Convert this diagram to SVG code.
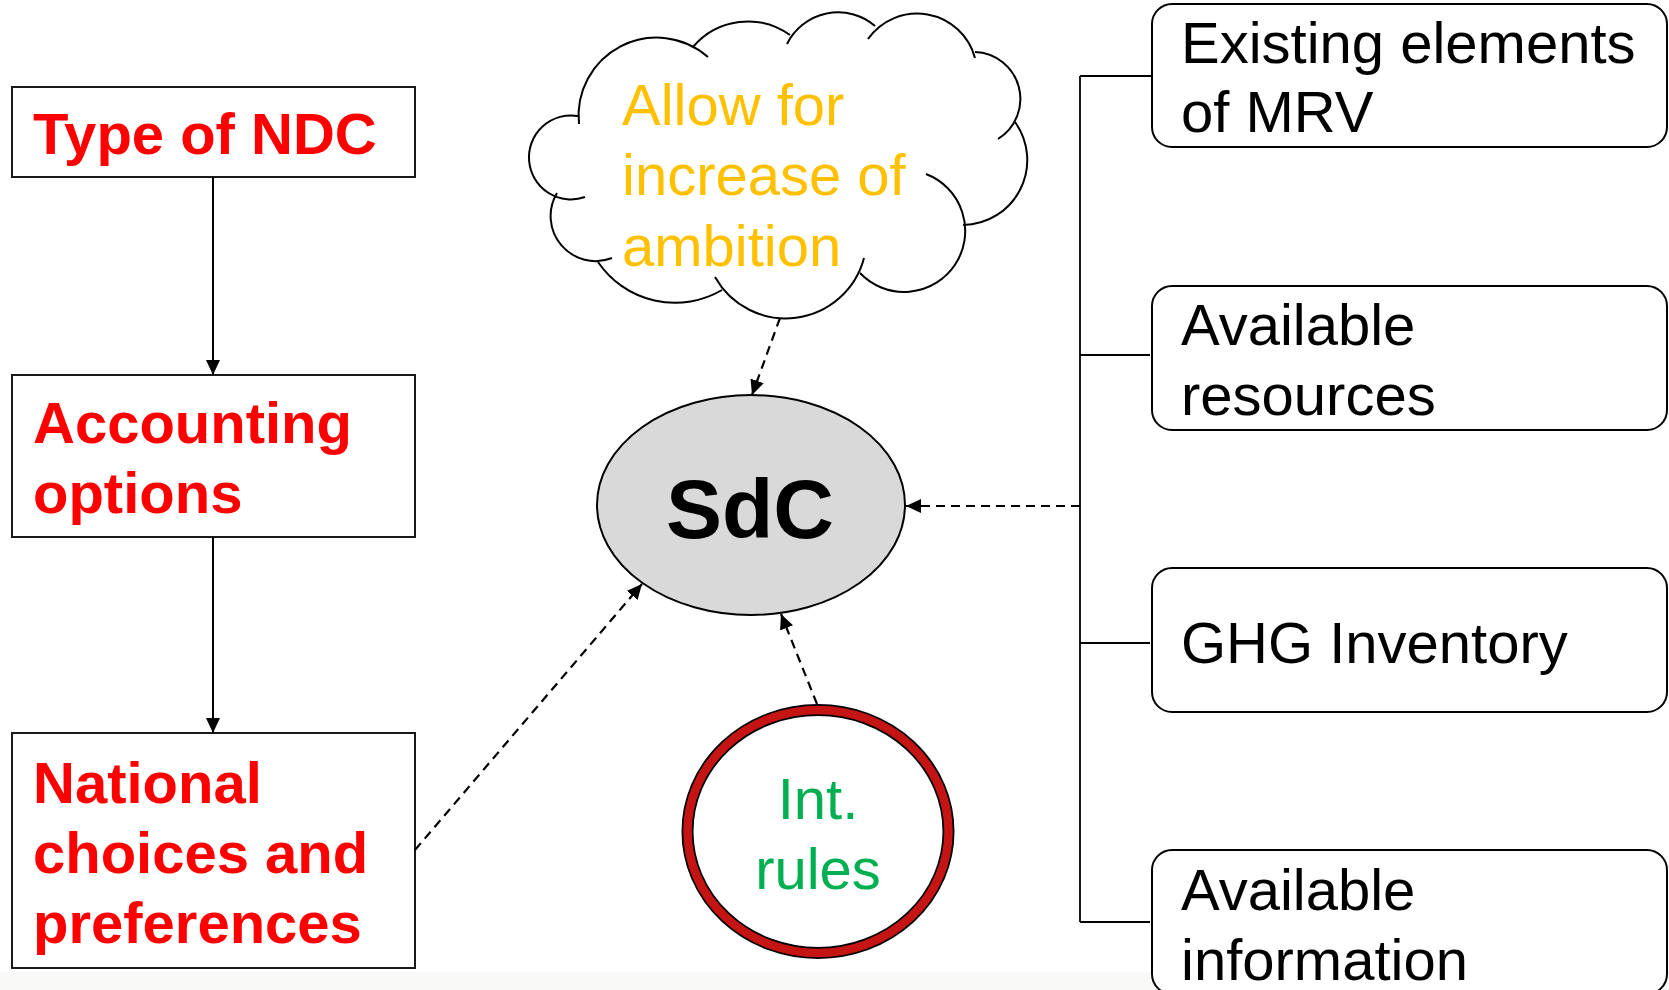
<svg xmlns="http://www.w3.org/2000/svg" width="1669" height="990" viewBox="0 0 1669 990">
<style>
  text { font-family: "Liberation Sans", Arial, sans-serif; font-size: 58px; }
  .lbox { fill: #ffffff; stroke: #1a1a1a; stroke-width: 2; }
  .ltxt { fill: #ff0000; font-weight: bold; }
  .rbox { fill: #ffffff; stroke: #000000; stroke-width: 2; }
  .rtxt { fill: #000000; }
  .solid { stroke: #000000; stroke-width: 2; fill: none; }
  .dash { stroke: #000000; stroke-width: 2.2; fill: none; stroke-dasharray: 9 6; }
  .thin { stroke: #000000; stroke-width: 1.8; fill: none; }
  .cloud path { fill: none; stroke: #000000; stroke-width: 2; }
</style>
<defs>
  <marker id="arr" markerUnits="userSpaceOnUse" markerWidth="15" markerHeight="14" refX="15" refY="7" orient="auto">
    <path d="M0,0 L15,7 L0,14 z" fill="#000000"/>
  </marker>
</defs>
<rect x="0" y="0" width="1669" height="990" fill="#ffffff"/>
<rect x="0" y="972" width="1669" height="18" fill="#f9f9f7"/>

<g id="type-of-ndc">
  <rect class="lbox" x="12" y="87" width="403" height="90"/>
  <text class="ltxt" x="33" y="154">Type of NDC</text>
</g>
<g id="accounting-options">
  <rect class="lbox" x="12" y="375" width="403" height="162"/>
  <text class="ltxt" x="33" y="443">Accounting</text>
  <text class="ltxt" x="33" y="513">options</text>
</g>
<g id="national-choices">
  <rect class="lbox" x="12" y="733" width="403" height="235"/>
  <text class="ltxt" x="33" y="803">National</text>
  <text class="ltxt" x="33" y="873">choices and</text>
  <text class="ltxt" x="33" y="943">preferences</text>
</g>

<g id="cloud" class="cloud">
  <path d="M579,124 A78,78 0 0 1 708,57"/>
  <path d="M693,47 A72,72 0 0 1 790,35"/>
  <path d="M787,44 A57,57 0 0 1 875,26"/>
  <path d="M868,39 A60,60 0 0 1 975,58"/>
  <path d="M975,52 A47,47 0 0 1 998,139"/>
  <path d="M1015,122 A65,65 0 0 1 963,225"/>
  <path d="M926,174 A61,61 0 1 1 860,273"/>
  <path d="M864,258 A81,81 0 0 1 715,277"/>
  <path d="M722,290 A93,93 0 0 1 598,262"/>
  <path d="M612,258 A45,45 0 0 1 557,193"/>
  <path d="M585,197 A42,42 0 1 1 578,116"/>
  <text x="622" y="125" fill="#ffc000">Allow for</text>
  <text x="622" y="195" fill="#ffc000">increase of</text>
  <text x="622" y="266" fill="#ffc000">ambition</text>
</g>

<g id="sdc">
  <ellipse cx="751" cy="505" rx="154" ry="110" fill="#d9d9d9" stroke="#000000" stroke-width="2"/>
  <text x="750" y="538" text-anchor="middle" font-weight="bold" style="font-size:84px" fill="#000000">SdC</text>
</g>

<g id="int-rules">
  <ellipse cx="818" cy="831.5" rx="130.5" ry="121.5" fill="#ffffff" stroke="#000000" stroke-width="12"/>
  <ellipse cx="818" cy="831.5" rx="130.5" ry="121.5" fill="none" stroke="#c41414" stroke-width="8.5"/>
  <text x="818" y="819" text-anchor="middle" fill="#00b050">Int.</text>
  <text x="818" y="889" text-anchor="middle" fill="#00b050">rules</text>
</g>

<g id="existing-elements">
  <rect class="rbox" x="1152" y="4" width="515" height="143" rx="20" ry="20"/>
  <text class="rtxt" x="1181" y="63">Existing elements</text>
  <text class="rtxt" x="1181" y="132">of MRV</text>
</g>
<g id="available-resources">
  <rect class="rbox" x="1152" y="286" width="515" height="144" rx="20" ry="20"/>
  <text class="rtxt" x="1181" y="345">Available</text>
  <text class="rtxt" x="1181" y="415">resources</text>
</g>
<g id="ghg-inventory">
  <rect class="rbox" x="1152" y="568" width="515" height="144" rx="20" ry="20"/>
  <text class="rtxt" x="1181" y="663">GHG Inventory</text>
</g>
<g id="available-information">
  <rect class="rbox" x="1152" y="850" width="515" height="144" rx="20" ry="20"/>
  <text class="rtxt" x="1181" y="910">Available</text>
  <text class="rtxt" x="1181" y="980">information</text>
</g>

<g id="connectors">
  <line class="solid" x1="213" y1="177" x2="213" y2="375" marker-end="url(#arr)"/>
  <line class="solid" x1="213" y1="537" x2="213" y2="733" marker-end="url(#arr)"/>
  <line class="dash" x1="415" y1="850" x2="642" y2="584" marker-end="url(#arr)"/>
  <line class="dash" x1="780" y1="318" x2="752" y2="395" marker-end="url(#arr)"/>
  <line class="dash" x1="817" y1="704" x2="781" y2="614" marker-end="url(#arr)"/>
  <line class="dash" x1="1080" y1="506" x2="906" y2="506" marker-end="url(#arr)"/>
  <line class="thin" x1="1080" y1="76" x2="1080" y2="922"/>
  <line class="thin" x1="1080" y1="76" x2="1152" y2="76"/>
  <line class="thin" x1="1080" y1="355" x2="1150" y2="355"/>
  <line class="thin" x1="1080" y1="643" x2="1150" y2="643"/>
  <line class="thin" x1="1080" y1="922" x2="1150" y2="922"/>
</g>
</svg>
